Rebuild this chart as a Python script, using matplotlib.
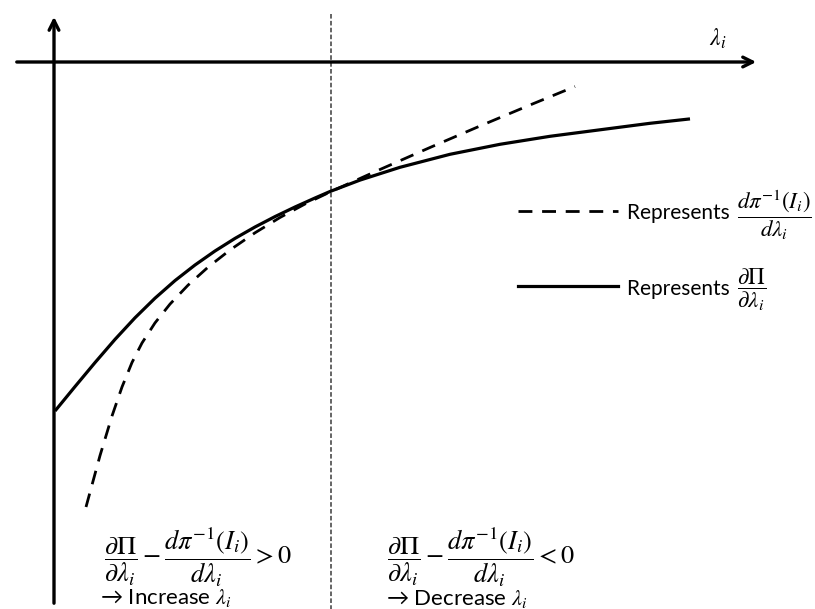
import matplotlib
matplotlib.use("Agg")
import matplotlib.pyplot as plt

plt.rcParams['mathtext.fontset'] = 'stix'
plt.rcParams['font.family'] = ['Lato', 'DejaVu Sans']

# Curve data (pixel-like coordinates, y downward)
solid_x = [55, 75, 95, 115, 135, 155, 175, 195, 215, 235, 255, 275, 295, 315, 330,
           360, 400, 450, 500, 550, 600, 650, 690]
solid_y = [411, 386.6, 362.6, 339.4, 317.8, 298.2, 280.6, 265, 251, 238.4, 227, 216.6, 207, 198, 191.5,
           180.1, 167.3, 154.3, 144.3, 136.3, 129.8, 123.3, 118.9]

dashed_x = [86, 100, 112, 122, 132, 142, 155, 170, 188, 208, 230, 255, 280, 305, 330,
            380, 430, 480, 530, 575]
dashed_y = [507, 455.6, 416, 387, 362.5, 343, 322.9, 304.1, 285.2, 267.2, 250, 232.8, 217.5, 204, 192,
            169.5, 147.5, 126, 105, 86.5]

legend_words = ['Represents ', 'Represents ']
legend_math = [r'$\dfrac{d\pi^{-1}(I_i)}{d\lambda_i}$',
               r'$\dfrac{\partial\Pi}{\partial\lambda_i}$']
left_text = r'$\dfrac{\partial\Pi}{\partial\lambda_i} - \dfrac{d\pi^{-1}(I_i)}{d\lambda_i} > 0$'
right_text = r'$\dfrac{\partial\Pi}{\partial\lambda_i} - \dfrac{d\pi^{-1}(I_i)}{d\lambda_i} < 0$'
left_action = r'→ Increase $\lambda_i$'
right_action = r'→ Decrease $\lambda_i$'

fig = plt.figure(figsize=(8.15, 6.09), dpi=100)
ax = fig.add_axes([0, 0, 1, 1])
ax.set_xlim(0, 815)
ax.set_ylim(609, 0)
ax.axis('off')

# axes arrows
ax.annotate('', xy=(54, 14), xytext=(54, 606),
            arrowprops=dict(arrowstyle='->,head_length=0.7,head_width=0.35', lw=2.4, color='black'))
ax.annotate('', xy=(759, 62), xytext=(14, 62),
            arrowprops=dict(arrowstyle='->,head_length=0.7,head_width=0.35', lw=2.4, color='black'))
ax.text(718, 39, r'$\lambda_i$', fontsize=17, ha='center', va='center')

# dotted vertical line
ax.plot([331, 331], [14, 609], color='#3a3a3a', lw=1.1, dashes=(3, 1.5))

# curves
ax.plot(solid_x, solid_y, color='black', lw=2.3, solid_capstyle='butt', solid_joinstyle='round')
ax.plot(dashed_x, dashed_y, color='black', lw=2.0, dashes=(5, 3.5))

# legend
ax.plot([518, 618], [211, 211], color='black', lw=2.0, dashes=(5, 3.5))
ax.plot([518, 618], [286, 286], color='black', lw=2.3)
for ypos, word, math in zip([213, 289], legend_words, legend_math):
    t = ax.text(627, ypos, word, fontsize=15, ha='left', va='center')
    ax.annotate(math, xy=(1, 0.5), xycoords=t, xytext=(1, -1), textcoords='offset points',
                fontsize=16.5, ha='left', va='center')

# bottom annotations
ax.text(104, 557, left_text, fontsize=19, ha='left', va='center')
ax.text(387, 557, right_text, fontsize=19, ha='left', va='center')
ax.text(100, 598, left_action, fontsize=16, ha='left', va='center')
ax.text(386, 599, right_action, fontsize=16, ha='left', va='center')

fig.savefig('out.png', dpi=100)
